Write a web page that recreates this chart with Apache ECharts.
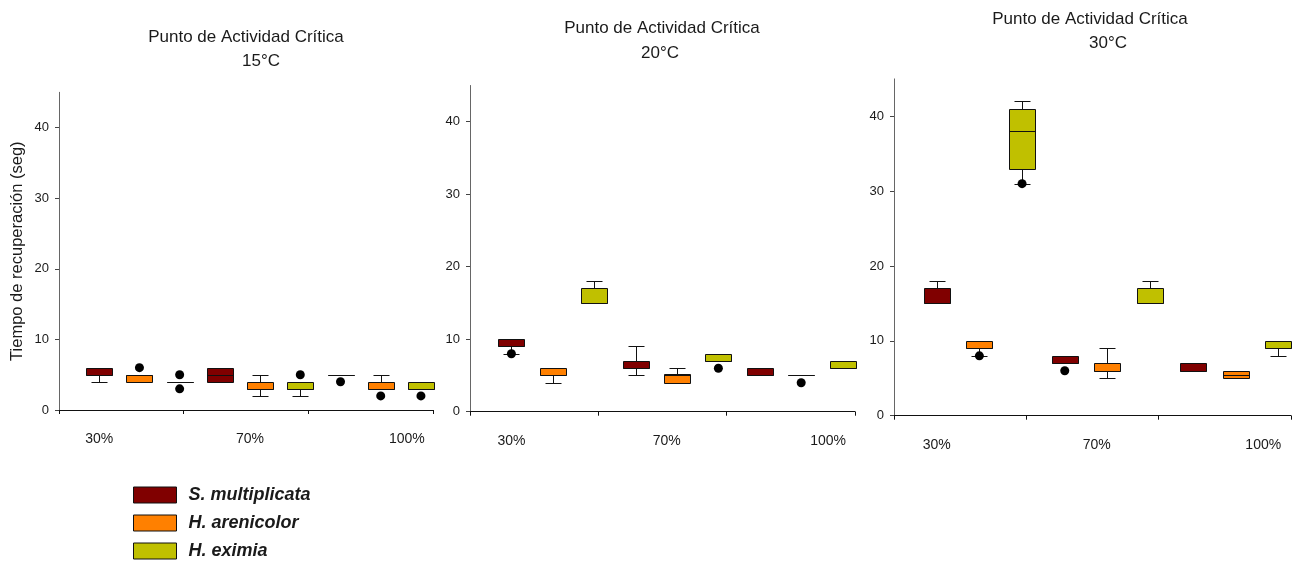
<!DOCTYPE html>
<html>
<head>
<meta charset="utf-8">
<script src="https://cdn.jsdelivr.net/npm/echarts@6/dist/echarts.min.js"></script>
<style>
  html, body { margin: 0; padding: 0; background: #ffffff; }
  #chart { width: 1292px; height: 563px; }
</style>
</head>
<body>
<div id="chart"></div>
<script>
// Categories
const humidity = ['30%', '70%', '100%'];
const species = ['S. multiplicata', 'H. arenicolor', 'H. eximia'];
const temperatures = ['15°C', '20°C', '30°C'];
const titleText = 'Punto de Actividad Crítica';
const yTicks = [0, 10, 20, 30, 40];

// Recovery time summaries [min, q1, median, q3, max] at 30 / 70 / 100 % humidity
const sMult15 = [[4, 5, 5, 6, 6], [4, 4, 5, 6, 6], [5, 5, 5, 5, 5]];
const hAren15 = [[4, 4, 5, 5, 5], [2, 3, 3, 4, 5], [3, 3, 3, 4, 5]];
const hExim15 = [[4, 4, 4, 4, 4], [2, 3, 3, 4, 4], [3, 3, 3, 4, 4]];

const sMult20 = [[8, 9, 9, 10, 10], [5, 6, 6, 7, 9], [5, 5, 5, 6, 6]];
const hAren20 = [[4, 5, 5, 6, 6], [4, 4, 5, 5.25, 6], [5, 5, 5, 5, 5]];
const hExim20 = [[15, 15, 15, 17, 18], [7, 7, 7, 8, 8], [6, 6, 6, 7, 7]];

const sMult30 = [[15, 15, 15, 17, 18], [7, 7, 7, 8, 8], [6, 6, 6, 7, 7]];
const hAren30 = [[8, 9, 9, 10, 10], [5, 6, 6, 7, 9], [5, 5, 5.5, 6, 6]];
const hExim30 = [[31, 33, 38, 41, 42], [15, 15, 15, 17, 18], [8, 9, 9, 10, 10]];

// Outlying observations at 30 / 70 / 100 % humidity
const sMult15Out = [[], [], [4]];
const hAren15Out = [[6], [], [2]];
const hExim15Out = [[5, 3], [5], [2]];

const sMult20Out = [[8], [], []];
const hAren20Out = [[], [], [4]];
const hExim20Out = [[], [6], []];

const sMult30Out = [[], [6], []];
const hAren30Out = [[8], [], []];
const hExim30Out = [[31], [], []];

// Styling and layout
const speciesColors = ['#800000', '#ff8000', '#c0c000'];
const BOX_W = 26;
const CAP_W = 16;
const X_MAX = 9.3;
const X_STEP = 3.1;
const labelSlots = [1, 4.75, 8.65];
const FONT = '"Liberation Sans", Arial, sans-serif';
const TEXT = '#1a1a1a';

const panels = [
  { boxes: [sMult15, hAren15, hExim15], outliers: [sMult15Out, hAren15Out, hExim15Out],
    grid: { left: 59, top: 92.3, width: 374, height: 317.7 },
    title: { x: 246, y: 37, x2: 261, y2: 61 } },
  { boxes: [sMult20, hAren20, hExim20], outliers: [sMult20Out, hAren20Out, hExim20Out],
    grid: { left: 470, top: 85.5, width: 385, height: 326.2 },
    title: { x: 662, y: 28, x2: 660, y2: 53 } },
  { boxes: [sMult30, hAren30, hExim30], outliers: [sMult30Out, hAren30Out, hExim30Out],
    grid: { left: 894, top: 78.9, width: 397, height: 336.8 },
    title: { x: 1090, y: 19, x2: 1108, y2: 43 } }
];

// Slot along the x axis: species boxes side by side inside each humidity group
function slotOf(h, s) { return h * species.length + s + 1; }

function crisp(v) { return Math.round(v) + 0.5; }

function boxRenderer(color) {
  return function (params, api) {
    const x = api.value(0);
    const v = [1, 2, 3, 4, 5].map(function (i) { return api.value(i); });
    const pts = v.map(function (val) { return api.coord([x, val]); });
    const cx = crisp(pts[0][0]);
    const y = pts.map(function (p) { return crisp(p[1]); });
    const half = BOX_W / 2;
    const cap = CAP_W / 2;
    const line = function (x1, y1, x2, y2) {
      return { type: 'line', shape: { x1: x1, y1: y1, x2: x2, y2: y2 },
               style: { stroke: '#111', lineWidth: 1 } };
    };
    const children = [];
    if (v[4] > v[3]) {
      children.push(line(cx, y[3], cx, y[4]));
      children.push(line(cx - cap, y[4], cx + cap, y[4]));
    }
    if (v[0] < v[1]) {
      children.push(line(cx, y[1], cx, y[0]));
      children.push(line(cx - cap, y[0], cx + cap, y[0]));
    }
    children.push({
      type: 'rect',
      shape: { x: cx - half, y: y[3], width: BOX_W, height: y[1] - y[3] },
      style: { fill: color, stroke: '#111', lineWidth: 1 }
    });
    children.push(line(cx - half, y[2], cx + half, y[2]));
    return { type: 'group', children: children };
  };
}

const grids = [];
const xAxes = [];
const yAxes = [];
const series = [];
const graphics = [];

panels.forEach(function (panel, pi) {
  grids.push(Object.assign({ containLabel: false }, panel.grid));

  xAxes.push({
    type: 'value', gridIndex: pi, min: 0, max: X_MAX, interval: X_STEP,
    splitLine: { show: false },
    axisLine: { show: true, onZero: false, lineStyle: { color: '#111', width: 1 } },
    axisTick: { show: true, length: 4, inside: false, customValues: [0, X_STEP, 2 * X_STEP, X_MAX],
                lineStyle: { color: '#111' } },
    axisLabel: {
      show: true, customValues: labelSlots, margin: 22,
      fontFamily: FONT, fontSize: 14, color: TEXT,
      formatter: function (val) {
        let best = 0;
        labelSlots.forEach(function (s, i) {
          if (Math.abs(s - val) < Math.abs(labelSlots[best] - val)) best = i;
        });
        return humidity[best];
      }
    }
  });

  yAxes.push({
    type: 'value', gridIndex: pi, min: 0, max: 45, interval: 10,
    splitLine: { show: false },
    axisLine: { show: true, onZero: false, lineStyle: { color: '#666', width: 1 } },
    axisTick: { show: true, length: 4, customValues: yTicks, lineStyle: { color: '#444' } },
    axisLabel: { show: true, customValues: yTicks, margin: 10, fontFamily: FONT, fontSize: 13, color: TEXT },
    name: pi === 0 ? 'Tiempo de recuperación (seg)' : '',
    nameLocation: 'middle',
    nameGap: 33,
    nameRotate: 90,
    nameTextStyle: { fontFamily: FONT, fontSize: 16.5, color: TEXT }
  });

  species.forEach(function (name, si) {
    series.push({
      type: 'custom',
      name: name,
      xAxisIndex: pi,
      yAxisIndex: pi,
      itemStyle: { color: speciesColors[si] },
      encode: { x: 0, y: [1, 2, 3, 4, 5] },
      renderItem: boxRenderer(speciesColors[si]),
      data: panel.boxes[si].map(function (five, h) { return [slotOf(h, si)].concat(five); }),
      z: 2
    });
  });

  const outlierData = [];
  panel.outliers.forEach(function (bySpecies, si) {
    bySpecies.forEach(function (vals, h) {
      vals.forEach(function (v) { outlierData.push([slotOf(h, si), v]); });
    });
  });
  series.push({
    type: 'scatter',
    name: 'outliers-' + temperatures[pi],
    xAxisIndex: pi,
    yAxisIndex: pi,
    symbol: 'circle',
    symbolSize: 9,
    itemStyle: { color: '#000', opacity: 1 },
    data: outlierData,
    z: 5
  });

  graphics.push({
    type: 'text', x: panel.title.x, y: panel.title.y,
    style: { text: titleText, fontFamily: FONT, fontSize: 17, fill: TEXT,
             textAlign: 'center', textVerticalAlign: 'middle' }
  });
  graphics.push({
    type: 'text', x: panel.title.x2, y: panel.title.y2,
    style: { text: temperatures[pi], fontFamily: FONT, fontSize: 17, fill: TEXT,
             textAlign: 'center', textVerticalAlign: 'middle' }
  });
});

const chart = echarts.init(document.getElementById('chart'), null, { renderer: 'canvas' });
chart.setOption({
  animation: false,
  backgroundColor: '#ffffff',
  grid: grids,
  xAxis: xAxes,
  yAxis: yAxes,
  series: series,
  graphic: graphics,
  legend: {
    orient: 'vertical',
    left: 133,
    top: 486,
    height: 200,
    itemWidth: 43,
    itemHeight: 16,
    itemGap: 10,
    padding: 0,
    selectedMode: false,
    data: species.map(function (name, i) {
      return { name: name, icon: 'rect',
               itemStyle: { color: speciesColors[i], borderColor: '#111', borderWidth: 1 } };
    }),
    textStyle: { fontFamily: FONT, fontSize: 18, fontStyle: 'italic', fontWeight: 'bold',
                 color: TEXT, padding: [0, 0, 0, 7] }
  }
});
</script>
</body>
</html>
